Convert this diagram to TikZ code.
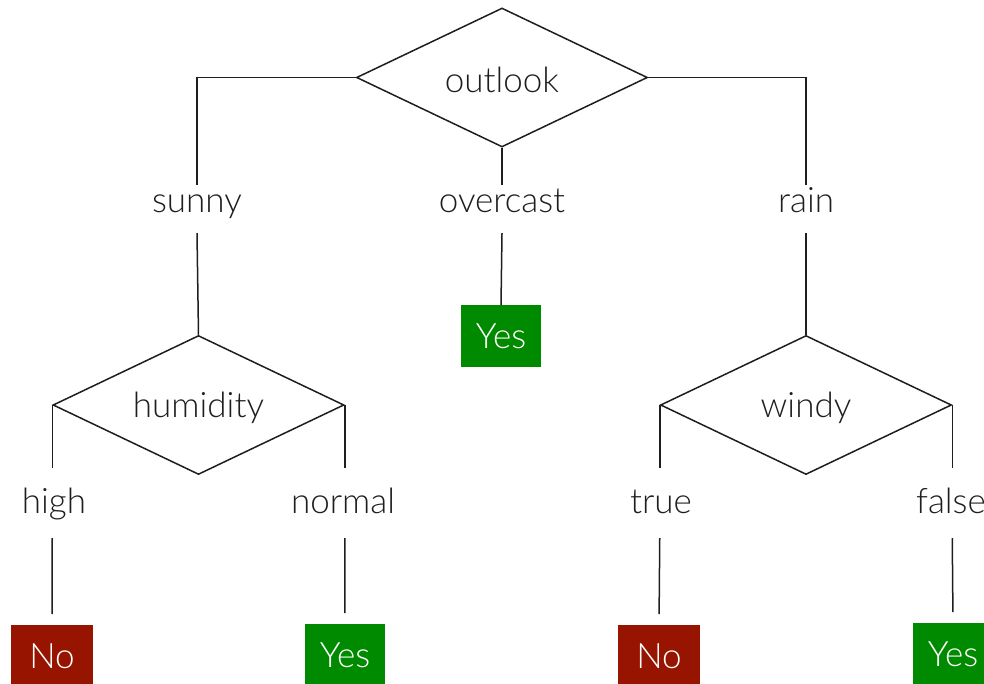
\documentclass[tikz,border=0pt]{standalone}
\usepackage{fontspec}
\setmainfont{Lato Light}
\usetikzlibrary{shapes.geometric}
\definecolor{leafgreen}{RGB}{0,138,0}
\definecolor{leafred}{RGB}{150,20,0}
\definecolor{ink}{RGB}{30,30,30}
\begin{document}
\begin{tikzpicture}[x=1pt,y=-1pt,
  font=\fontsize{35}{42}\selectfont,
  decision/.style={diamond, aspect=2.1, draw=ink, line width=1.5pt, inner sep=0pt, minimum width=291pt, minimum height=139pt, text=ink},
  dtext/.style={text=ink, inner sep=0pt},
  upperlab/.style={inner sep=0pt, text height=28pt, text depth=20pt, anchor=base, text=ink},
  lowerlab/.style={inner sep=0pt, text height=45pt, text depth=25pt, anchor=base, text=ink},
  leaf/.style={inner sep=0pt, minimum width=80pt, minimum height=62pt, text=white, anchor=north},
  yesleaf/.style={leaf, fill=leafgreen},
  noleaf/.style={leaf, fill=leafred, minimum width=82pt},
  link/.style={draw=ink, line width=1.5pt},
  gap/.style={link, shorten >=11pt}]
\useasboundingbox (0,0) rectangle (984,684);
% decisions
\node[decision] (outlook) at (502,77.5) {};
\node[dtext] (outlookt) at (502,80) {outlook};
\node[decision] (humidity) at (198.5,405) {};
\node[dtext] (humidityt) at (198.5,408) {humidity};
\node[decision] (windy) at (806,405) {};
\node[dtext] (windyt) at (806,408) {windy};
% upper labels
\node[upperlab] (sunny) at (197,213) {sunny};
\node[upperlab] (overcast) at (502,213) {overcast};
\node[upperlab] (rain) at (806,213) {rain};
% lower labels
\node[lowerlab] (high) at (54,513) {high};
\node[lowerlab] (normal) at (343,513) {normal};
\node[lowerlab] (true) at (661,513) {true};
\node[lowerlab] (false) at (951,513) {false};
% leaves
\node[yesleaf] (yes1) at (501,305) {Yes};
\node[noleaf] (no1) at (52,625) {No};
\node[yesleaf] (yes2) at (345,624) {Yes};
\node[noleaf] (no2) at (659,625) {No};
\node[yesleaf] (yes3) at (953,623) {Yes};
% connectors
\draw[link] (outlook.west) -| (sunny.north);
\draw[link] (outlook.south) -- (overcast.north);
\draw[link] (outlook.east) -| (rain.north);
\draw[link] (sunny.south) -- (humidity.north);
\draw[link] (overcast.south) -- (yes1.north);
\draw[link] (rain.south) -- (windy.north);
\draw[link] (humidity.west) -- (humidity.west |- high.north);
\draw[link] (humidity.east) -- (humidity.east |- normal.north);
\draw[link] (windy.west) -- (windy.west |- true.north);
\draw[link] (windy.east) -- (windy.east |- false.north);
\draw[gap] (humidity.west |- high.south) -- (no1.north);
\draw[gap] (humidity.east |- normal.south) -- (yes2.north);
\draw[gap] (windy.west |- true.south) -- (no2.north);
\draw[gap] (windy.east |- false.south) -- (yes3.north);
\end{tikzpicture}
\end{document}
